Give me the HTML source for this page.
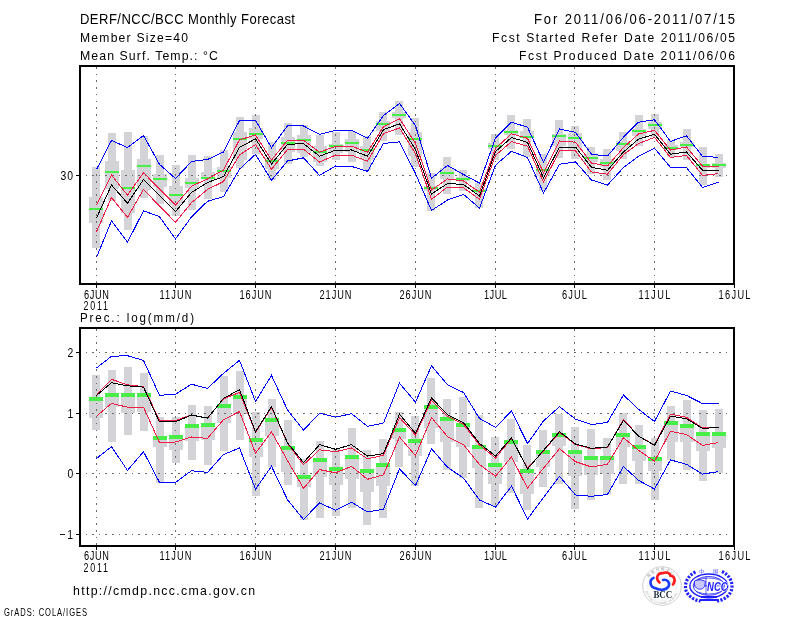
<!DOCTYPE html>
<html><head><meta charset="utf-8"><title>DERF/NCC/BCC Monthly Forecast</title>
<style>html,body{margin:0;padding:0;background:#fff;overflow:hidden}svg{display:block}</style>
</head><body>
<svg width="800" height="618" viewBox="0 0 800 618"><rect width="800" height="618" fill="#fff"/>
<g shape-rendering="crispEdges">
<g fill="#d3d3d8"><rect x="92" y="167" width="8" height="81"/><rect x="89" y="197" width="14" height="26"/><rect x="108" y="133" width="8" height="68"/><rect x="105" y="161" width="14" height="28"/><rect x="124" y="132" width="8" height="98"/><rect x="121" y="170" width="14" height="43"/><rect x="140" y="136" width="8" height="62"/><rect x="137" y="159" width="14" height="31"/><rect x="156" y="155" width="8" height="49"/><rect x="153" y="174" width="14" height="13"/><rect x="172" y="165" width="8" height="51"/><rect x="169" y="186" width="14" height="19"/><rect x="188" y="155" width="8" height="55"/><rect x="185" y="178" width="14" height="10"/><rect x="204" y="156" width="8" height="43"/><rect x="201" y="172" width="14" height="7"/><rect x="220" y="150" width="8" height="42"/><rect x="217" y="167" width="14" height="11"/><rect x="236" y="117" width="8" height="51"/><rect x="233" y="132" width="14" height="28"/><rect x="252" y="115" width="8" height="39"/><rect x="249" y="128" width="14" height="11"/><rect x="268" y="142" width="8" height="38"/><rect x="265" y="158" width="14" height="11"/><rect x="284" y="123" width="8" height="41"/><rect x="281" y="137" width="14" height="15"/><rect x="300" y="125" width="8" height="32"/><rect x="297" y="135" width="14" height="18"/><rect x="316" y="135" width="8" height="31"/><rect x="313" y="146" width="14" height="16"/><rect x="332" y="132" width="8" height="28"/><rect x="329" y="144" width="14" height="9"/><rect x="348" y="131" width="8" height="31"/><rect x="345" y="139" width="14" height="13"/><rect x="363" y="136" width="8" height="34"/><rect x="360" y="146" width="14" height="14"/><rect x="379" y="112" width="8" height="29"/><rect x="376" y="121" width="14" height="10"/><rect x="395" y="101" width="8" height="34"/><rect x="392" y="112" width="14" height="6"/><rect x="411" y="118" width="8" height="49"/><rect x="408" y="132" width="14" height="24"/><rect x="427" y="173" width="8" height="38"/><rect x="424" y="186" width="14" height="5"/><rect x="443" y="157" width="8" height="37"/><rect x="440" y="168" width="14" height="11"/><rect x="459" y="170" width="8" height="21"/><rect x="456" y="177" width="14" height="4"/><rect x="475" y="183" width="8" height="25"/><rect x="472" y="189" width="14" height="3"/><rect x="491" y="134" width="8" height="26"/><rect x="488" y="143" width="14" height="6"/><rect x="507" y="115" width="8" height="34"/><rect x="504" y="130" width="14" height="5"/><rect x="523" y="119" width="8" height="38"/><rect x="520" y="131" width="14" height="6"/><rect x="539" y="154" width="8" height="37"/><rect x="536" y="168" width="14" height="8"/><rect x="555" y="120" width="8" height="38"/><rect x="552" y="134" width="14" height="12"/><rect x="571" y="126" width="8" height="33"/><rect x="568" y="133" width="14" height="17"/><rect x="587" y="147" width="8" height="27"/><rect x="584" y="154" width="14" height="8"/><rect x="603" y="149" width="8" height="31"/><rect x="600" y="159" width="14" height="8"/><rect x="619" y="132" width="8" height="27"/><rect x="616" y="141" width="14" height="10"/><rect x="635" y="115" width="8" height="31"/><rect x="632" y="129" width="14" height="7"/><rect x="651" y="114" width="8" height="23"/><rect x="648" y="122" width="14" height="7"/><rect x="667" y="140" width="8" height="17"/><rect x="664" y="145" width="14" height="5"/><rect x="683" y="129" width="8" height="31"/><rect x="680" y="142" width="14" height="5"/><rect x="699" y="147" width="8" height="38"/><rect x="696" y="164" width="14" height="4"/><rect x="715" y="154" width="8" height="23"/><rect x="712" y="163" width="14" height="5"/></g>
<path d="M96.5 67V283M175.5 67V283M255.5 67V283M335.5 67V283M415.5 67V283M495.5 67V283M574.5 67V283M654.5 67V283" stroke="#6a6a6a" stroke-width="1" stroke-dasharray="1.6 5.1" fill="none"/>
<path d="M81 175.5H730" stroke="#6a6a6a" stroke-width="1" stroke-dasharray="1.6 5" stroke-dashoffset="-4.5" fill="none"/>
<g fill="#48ee48"><rect x="89" y="208" width="14" height="2"/><rect x="105" y="171" width="14" height="2"/><rect x="121" y="187" width="14" height="2"/><rect x="137" y="165" width="14" height="2"/><rect x="153" y="178" width="14" height="2"/><rect x="169" y="194" width="14" height="2"/><rect x="185" y="182" width="14" height="2"/><rect x="201" y="177" width="14" height="2"/><rect x="217" y="170" width="14" height="2"/><rect x="233" y="138" width="14" height="2"/><rect x="249" y="133" width="14" height="2"/><rect x="265" y="160" width="14" height="2"/><rect x="281" y="142" width="14" height="2"/><rect x="297" y="139" width="14" height="2"/><rect x="313" y="151" width="14" height="2"/><rect x="329" y="145" width="14" height="2"/><rect x="345" y="142" width="14" height="2"/><rect x="360" y="149" width="14" height="2"/><rect x="376" y="123" width="14" height="2"/><rect x="392" y="114" width="14" height="2"/><rect x="408" y="138" width="14" height="2"/><rect x="424" y="187" width="14" height="2"/><rect x="440" y="172" width="14" height="2"/><rect x="456" y="178" width="14" height="2"/><rect x="472" y="190" width="14" height="2"/><rect x="488" y="145" width="14" height="2"/><rect x="504" y="131" width="14" height="2"/><rect x="520" y="136" width="14" height="2"/><rect x="536" y="169" width="14" height="2"/><rect x="552" y="135" width="14" height="2"/><rect x="568" y="137" width="14" height="2"/><rect x="584" y="157" width="14" height="2"/><rect x="600" y="162" width="14" height="2"/><rect x="616" y="143" width="14" height="2"/><rect x="632" y="130" width="14" height="2"/><rect x="648" y="124" width="14" height="2"/><rect x="664" y="147" width="14" height="2"/><rect x="680" y="144" width="14" height="2"/><rect x="696" y="164" width="14" height="2"/><rect x="712" y="164" width="14" height="2"/></g>
<polyline points="96.5,169.5 111.5,140.5 127.5,147.5 143.5,135.5 159.5,164.3 175.5,178.5 191.5,161.5 207.5,159.5 223.5,152.0 239.5,120.5 255.5,120.3 271.5,147.7 287.5,125.7 303.5,126.0 319.5,134.4 335.5,130.4 351.5,130.4 367.5,138.3 383.5,115.4 399.5,103.5 415.5,125.6 431.5,178.3 447.5,165.4 463.5,174.5 479.5,183.1 495.5,138.0 511.5,122.2 527.5,127.2 543.5,162.2 559.5,129.0 575.5,132.3 591.5,154.3 607.5,156.0 623.5,137.2 638.5,122.2 654.5,119.8 670.5,141.4 686.5,135.8 702.5,156.3 718.5,157.4" stroke="#0000ff" stroke-width="1" fill="none"/>
<polyline points="96.5,257.5 111.5,220.8 127.5,242.2 143.5,210.8 159.5,216.7 175.5,238.9 191.5,216.9 207.5,201.3 223.5,196.6 239.5,169.2 255.5,154.3 271.5,180.3 287.5,161.0 303.5,157.8 319.5,175.4 335.5,166.0 351.5,166.4 367.5,171.3 383.5,143.5 399.5,141.8 415.5,173.5 431.5,210.5 447.5,200.0 463.5,194.4 479.5,208.1 495.5,165.2 511.5,151.3 527.5,157.5 543.5,193.1 559.5,164.3 575.5,161.9 591.5,180.0 607.5,185.0 623.5,167.6 638.5,156.3 654.5,148.2 670.5,167.3 686.5,167.6 702.5,187.4 718.5,182.2" stroke="#0000ff" stroke-width="1" fill="none"/>
<polyline points="96.5,231.8 111.5,197.5 127.5,217.4 143.5,189.5 159.5,206.0 175.5,222.3 191.5,202.7 207.5,189.4 223.5,181.5 239.5,155.0 255.5,144.5 271.5,169.2 287.5,149.6 303.5,149.2 319.5,162.0 335.5,155.2 351.5,155.2 367.5,161.2 383.5,133.7 399.5,127.9 415.5,153.6 431.5,199.2 447.5,187.1 463.5,187.8 479.5,199.3 495.5,155.3 511.5,141.7 527.5,146.2 543.5,182.0 559.5,151.0 575.5,150.9 591.5,172.0 607.5,174.2 623.5,154.6 638.5,143.6 654.5,137.3 670.5,157.5 686.5,155.5 702.5,175.4 718.5,173.6" stroke="#ec2046" stroke-width="1" fill="none"/>
<polyline points="96.5,205.3 111.5,175.0 127.5,195.2 143.5,172.7 159.5,189.0 175.5,205.2 191.5,186.2 207.5,179.0 223.5,170.0 239.5,139.8 255.5,135.0 271.5,160.0 287.5,140.4 303.5,140.2 319.5,152.2 335.5,146.4 351.5,146.1 367.5,152.2 383.5,126.6 399.5,118.6 415.5,143.4 431.5,190.0 447.5,178.9 463.5,181.0 479.5,192.2 495.5,148.4 511.5,133.8 527.5,138.3 543.5,172.8 559.5,141.0 575.5,142.2 591.5,163.0 607.5,166.0 623.5,147.5 638.5,134.0 654.5,130.3 670.5,150.2 686.5,147.0 702.5,166.2 718.5,166.2" stroke="#ec2046" stroke-width="1" fill="none"/>
<polyline points="96.5,218.0 111.5,185.0 127.5,203.2 143.5,179.6 159.5,195.5 175.5,211.5 191.5,192.5 207.5,182.5 223.5,176.6 239.5,147.4 255.5,138.8 271.5,164.0 287.5,144.3 303.5,143.7 319.5,156.2 335.5,150.2 351.5,150.0 367.5,156.2 383.5,129.7 399.5,123.8 415.5,149.5 431.5,194.0 447.5,183.5 463.5,184.5 479.5,196.0 495.5,151.5 511.5,137.5 527.5,142.4 543.5,177.7 559.5,147.0 575.5,147.0 591.5,167.3 607.5,170.3 623.5,151.9 638.5,139.1 654.5,134.3 670.5,154.2 686.5,152.0 702.5,170.2 718.5,170.2" stroke="#000" stroke-width="1" fill="none"/>
<rect x="80" y="66" width="654" height="218" fill="none" stroke="#000" stroke-width="2"/>
<path d="M96.5 285V288M175.5 285V288M255.5 285V288M335.5 285V288M415.5 285V288M495.5 285V288M574.5 285V288M654.5 285V288M734.5 285V288M76 175.5H79" stroke="#000" stroke-width="1"/>
<g fill="#d3d3d8"><rect x="92" y="375" width="8" height="55"/><rect x="89" y="397" width="14" height="21"/><rect x="108" y="370" width="8" height="72"/><rect x="105" y="393" width="14" height="14"/><rect x="124" y="367" width="8" height="68"/><rect x="121" y="393" width="14" height="20"/><rect x="140" y="373" width="8" height="58"/><rect x="137" y="393" width="14" height="19"/><rect x="156" y="417" width="8" height="66"/><rect x="153" y="436" width="14" height="11"/><rect x="172" y="417" width="8" height="46"/><rect x="169" y="435" width="14" height="15"/><rect x="188" y="405" width="8" height="55"/><rect x="185" y="424" width="14" height="17"/><rect x="204" y="406" width="8" height="59"/><rect x="201" y="423" width="14" height="17"/><rect x="220" y="376" width="8" height="75"/><rect x="217" y="404" width="14" height="19"/><rect x="236" y="371" width="8" height="69"/><rect x="233" y="395" width="14" height="19"/><rect x="252" y="412" width="8" height="84"/><rect x="249" y="438" width="14" height="19"/><rect x="268" y="399" width="8" height="68"/><rect x="265" y="418" width="14" height="18"/><rect x="284" y="420" width="8" height="65"/><rect x="281" y="446" width="14" height="26"/><rect x="300" y="459" width="8" height="61"/><rect x="297" y="475" width="14" height="12"/><rect x="316" y="441" width="8" height="77"/><rect x="313" y="458" width="14" height="19"/><rect x="332" y="449" width="8" height="67"/><rect x="329" y="467" width="14" height="18"/><rect x="348" y="428" width="8" height="80"/><rect x="345" y="455" width="14" height="24"/><rect x="363" y="450" width="8" height="75"/><rect x="360" y="469" width="14" height="23"/><rect x="379" y="439" width="8" height="79"/><rect x="376" y="463" width="14" height="23"/><rect x="395" y="412" width="8" height="55"/><rect x="392" y="428" width="14" height="11"/><rect x="411" y="416" width="8" height="70"/><rect x="408" y="439" width="14" height="17"/><rect x="427" y="378" width="8" height="66"/><rect x="424" y="405" width="14" height="23"/><rect x="443" y="399" width="8" height="71"/><rect x="440" y="417" width="14" height="25"/><rect x="459" y="397" width="8" height="81"/><rect x="456" y="423" width="14" height="24"/><rect x="475" y="415" width="8" height="93"/><rect x="472" y="445" width="14" height="23"/><rect x="491" y="437" width="8" height="69"/><rect x="488" y="463" width="14" height="21"/><rect x="507" y="419" width="8" height="74"/><rect x="504" y="440" width="14" height="22"/><rect x="523" y="445" width="8" height="65"/><rect x="520" y="469" width="14" height="25"/><rect x="539" y="430" width="8" height="57"/><rect x="536" y="450" width="14" height="17"/><rect x="555" y="414" width="8" height="70"/><rect x="552" y="433" width="14" height="13"/><rect x="571" y="427" width="8" height="82"/><rect x="568" y="450" width="14" height="26"/><rect x="587" y="429" width="8" height="71"/><rect x="584" y="456" width="14" height="19"/><rect x="603" y="438" width="8" height="56"/><rect x="600" y="456" width="14" height="18"/><rect x="619" y="413" width="8" height="71"/><rect x="616" y="433" width="14" height="14"/><rect x="635" y="425" width="8" height="59"/><rect x="632" y="445" width="14" height="16"/><rect x="651" y="438" width="8" height="62"/><rect x="648" y="457" width="14" height="14"/><rect x="667" y="406" width="8" height="54"/><rect x="664" y="421" width="14" height="21"/><rect x="683" y="400" width="8" height="70"/><rect x="680" y="424" width="14" height="18"/><rect x="699" y="410" width="8" height="71"/><rect x="696" y="432" width="14" height="19"/><rect x="715" y="409" width="8" height="64"/><rect x="712" y="432" width="14" height="16"/></g>
<path d="M96.5 329V545M175.5 329V545M255.5 329V545M335.5 329V545M415.5 329V545M495.5 329V545M574.5 329V545M654.5 329V545" stroke="#6a6a6a" stroke-width="1" stroke-dasharray="1.6 5.1" fill="none"/>
<path d="M81 352.5H730M81 413.5H730M81 473.5H730M81 534.5H730" stroke="#6a6a6a" stroke-width="1" stroke-dasharray="1.6 5" stroke-dashoffset="-4.5" fill="none"/>
<g fill="#48ee48"><rect x="89" y="397" width="14" height="4"/><rect x="105" y="393" width="14" height="4"/><rect x="121" y="393" width="14" height="4"/><rect x="137" y="393" width="14" height="4"/><rect x="153" y="436" width="14" height="4"/><rect x="169" y="435" width="14" height="4"/><rect x="185" y="424" width="14" height="4"/><rect x="201" y="423" width="14" height="4"/><rect x="217" y="404" width="14" height="4"/><rect x="233" y="395" width="14" height="4"/><rect x="249" y="438" width="14" height="4"/><rect x="265" y="418" width="14" height="4"/><rect x="281" y="446" width="14" height="4"/><rect x="297" y="475" width="14" height="4"/><rect x="313" y="458" width="14" height="4"/><rect x="329" y="467" width="14" height="4"/><rect x="345" y="455" width="14" height="4"/><rect x="360" y="469" width="14" height="4"/><rect x="376" y="463" width="14" height="4"/><rect x="392" y="428" width="14" height="4"/><rect x="408" y="439" width="14" height="4"/><rect x="424" y="405" width="14" height="4"/><rect x="440" y="417" width="14" height="4"/><rect x="456" y="423" width="14" height="4"/><rect x="472" y="445" width="14" height="4"/><rect x="488" y="463" width="14" height="4"/><rect x="504" y="440" width="14" height="4"/><rect x="520" y="469" width="14" height="4"/><rect x="536" y="450" width="14" height="4"/><rect x="552" y="433" width="14" height="4"/><rect x="568" y="450" width="14" height="4"/><rect x="584" y="456" width="14" height="4"/><rect x="600" y="456" width="14" height="4"/><rect x="616" y="433" width="14" height="4"/><rect x="632" y="445" width="14" height="4"/><rect x="648" y="457" width="14" height="4"/><rect x="664" y="421" width="14" height="4"/><rect x="680" y="424" width="14" height="4"/><rect x="696" y="432" width="14" height="4"/><rect x="712" y="432" width="14" height="4"/></g>
<polyline points="96.5,368.0 111.5,356.3 127.5,355.7 143.5,360.4 159.5,395.3 175.5,394.2 191.5,384.2 207.5,388.5 223.5,373.3 239.5,360.3 255.5,401.5 271.5,375.4 287.5,410.0 303.5,430.2 319.5,413.2 335.5,417.2 351.5,413.7 367.5,426.3 383.5,423.0 399.5,383.2 415.5,402.2 431.5,365.8 447.5,384.8 463.5,392.5 479.5,418.4 495.5,427.4 511.5,411.1 527.5,443.6 543.5,420.9 559.5,406.7 575.5,419.2 591.5,424.6 607.5,422.3 623.5,395.0 638.5,409.3 654.5,421.5 670.5,391.1 686.5,395.4 702.5,403.6 718.5,403.6" stroke="#0000ff" stroke-width="1" fill="none"/>
<polyline points="96.5,458.5 111.5,446.7 127.5,470.4 143.5,451.7 159.5,482.4 175.5,482.4 191.5,470.7 207.5,472.4 223.5,454.5 239.5,448.0 255.5,489.1 271.5,466.3 287.5,499.7 303.5,519.5 319.5,502.9 335.5,510.2 351.5,502.2 367.5,512.0 383.5,509.2 399.5,468.8 415.5,485.7 431.5,448.8 447.5,467.2 463.5,478.1 479.5,500.0 495.5,507.2 511.5,486.1 527.5,519.1 543.5,497.5 559.5,476.3 575.5,495.0 591.5,496.3 607.5,494.5 623.5,466.5 638.5,480.3 654.5,489.1 670.5,459.9 686.5,464.3 702.5,474.1 718.5,471.6" stroke="#0000ff" stroke-width="1" fill="none"/>
<polyline points="96.5,416.3 111.5,403.4 127.5,407.2 143.5,407.2 159.5,442.6 175.5,442.0 191.5,437.0 207.5,438.4 223.5,419.7 239.5,411.5 255.5,453.3 271.5,431.8 287.5,460.6 303.5,488.3 319.5,469.6 335.5,472.8 351.5,466.4 367.5,479.3 383.5,474.8 399.5,437.0 415.5,455.6 431.5,417.5 447.5,436.6 463.5,444.7 479.5,464.5 495.5,476.3 511.5,456.8 527.5,488.2 543.5,468.2 559.5,448.7 575.5,461.7 591.5,467.0 607.5,464.2 623.5,437.7 638.5,450.2 654.5,461.3 670.5,431.2 686.5,434.5 702.5,445.4 718.5,442.6" stroke="#ec2046" stroke-width="1" fill="none"/>
<polyline points="96.5,394.5 111.5,379.3 127.5,384.8 143.5,386.6 159.5,420.4 175.5,420.4 191.5,415.0 207.5,418.2 223.5,398.8 239.5,392.4 255.5,432.4 271.5,407.5 287.5,443.5 303.5,464.7 319.5,449.8 335.5,451.7 351.5,448.0 367.5,458.9 383.5,455.3 399.5,417.6 415.5,435.0 431.5,400.2 447.5,416.3 463.5,424.4 479.5,445.0 495.5,458.0 511.5,438.5 527.5,468.2 543.5,451.0 559.5,432.5 575.5,444.6 591.5,448.8 607.5,447.5 623.5,419.3 638.5,436.0 654.5,445.0 670.5,414.1 686.5,417.4 702.5,428.0 718.5,427.0" stroke="#ec2046" stroke-width="1" fill="none"/>
<polyline points="96.5,395.5 111.5,382.7 127.5,385.8 143.5,387.1 159.5,422.0 175.5,421.8 191.5,415.0 207.5,418.2 223.5,398.5 239.5,389.6 255.5,431.9 271.5,406.7 287.5,442.8 303.5,462.6 319.5,444.7 335.5,449.3 351.5,444.7 367.5,456.1 383.5,453.7 399.5,414.2 415.5,433.4 431.5,397.8 447.5,414.8 463.5,422.7 479.5,443.5 495.5,456.0 511.5,437.9 527.5,469.0 543.5,450.3 559.5,431.7 575.5,444.0 591.5,448.3 607.5,447.0 623.5,420.3 638.5,436.1 654.5,445.4 670.5,416.1 686.5,418.7 702.5,428.5 718.5,427.2" stroke="#000" stroke-width="1" fill="none"/>
<rect x="80" y="328" width="654" height="218" fill="none" stroke="#000" stroke-width="2"/>
<path d="M96.5 547V550M175.5 547V550M255.5 547V550M335.5 547V550M415.5 547V550M495.5 547V550M574.5 547V550M654.5 547V550M734.5 547V550M76 352.5H79M76 413.5H79M76 473.5H79M76 534.5H79" stroke="#000" stroke-width="1"/>
</g>
<g font-family="Liberation Sans, sans-serif" fill="#000">
<text transform="translate(80.00,24) scale(0.92,1)" font-size="14.2" textLength="233.70" lengthAdjust="spacing">DERF/NCC/BCC Monthly Forecast</text>
<text transform="translate(80.00,42) scale(0.92,1)" font-size="13.2" textLength="117.39" lengthAdjust="spacing">Member Size=40</text>
<text transform="translate(80.00,60) scale(0.92,1)" font-size="13.4" textLength="150.00" lengthAdjust="spacing">Mean Surf. Temp.: °C</text>
<text transform="translate(534.00,24) scale(0.92,1)" font-size="14.2" textLength="218.48" lengthAdjust="spacing">For 2011/06/06-2011/07/15</text>
<text transform="translate(492.00,42) scale(0.92,1)" font-size="13.2" textLength="264.13" lengthAdjust="spacing">Fcst Started Refer Date 2011/06/05</text>
<text transform="translate(519.00,60) scale(0.92,1)" font-size="13.2" textLength="234.78" lengthAdjust="spacing">Fcst Produced Date 2011/06/06</text>
<text transform="translate(80.00,322) scale(0.92,1)" font-size="12.6" textLength="123.91" lengthAdjust="spacing">Prec.: log(mm/d)</text>
<text transform="translate(60.50,180) scale(0.8,1)" font-size="13" textLength="15.62" lengthAdjust="spacing">30</text>
<text transform="translate(67.50,357) scale(0.8,1)" font-size="13" textLength="8.12" lengthAdjust="spacing">2</text>
<text transform="translate(67.50,418) scale(0.8,1)" font-size="13" textLength="6.88" lengthAdjust="spacing">1</text>
<text transform="translate(67.50,478) scale(0.8,1)" font-size="13" textLength="8.12" lengthAdjust="spacing">0</text>
<text transform="translate(59.50,539) scale(0.8,1)" font-size="13" textLength="16.88" lengthAdjust="spacing">−1</text>
<text transform="translate(84.00,299) scale(0.72,1)" font-size="12.8" textLength="34.72" lengthAdjust="spacing">6JUN</text>
<text transform="translate(159.50,299) scale(0.72,1)" font-size="12.8" textLength="44.44" lengthAdjust="spacing">11JUN</text>
<text transform="translate(239.50,299) scale(0.72,1)" font-size="12.8" textLength="44.44" lengthAdjust="spacing">16JUN</text>
<text transform="translate(319.50,299) scale(0.72,1)" font-size="12.8" textLength="44.44" lengthAdjust="spacing">21JUN</text>
<text transform="translate(399.50,299) scale(0.72,1)" font-size="12.8" textLength="44.44" lengthAdjust="spacing">26JUN</text>
<text transform="translate(484.00,299) scale(0.72,1)" font-size="12.8" textLength="31.94" lengthAdjust="spacing">1JUL</text>
<text transform="translate(562.00,299) scale(0.72,1)" font-size="12.8" textLength="34.72" lengthAdjust="spacing">6JUL</text>
<text transform="translate(638.50,299) scale(0.72,1)" font-size="12.8" textLength="44.44" lengthAdjust="spacing">11JUL</text>
<text transform="translate(718.50,299) scale(0.72,1)" font-size="12.8" textLength="44.44" lengthAdjust="spacing">16JUL</text>
<text transform="translate(83.50,310) scale(0.72,1)" font-size="12.4" textLength="34.03" lengthAdjust="spacing">2011</text>
<text transform="translate(84.00,560) scale(0.72,1)" font-size="12.8" textLength="34.72" lengthAdjust="spacing">6JUN</text>
<text transform="translate(159.50,560) scale(0.72,1)" font-size="12.8" textLength="44.44" lengthAdjust="spacing">11JUN</text>
<text transform="translate(239.50,560) scale(0.72,1)" font-size="12.8" textLength="44.44" lengthAdjust="spacing">16JUN</text>
<text transform="translate(319.50,560) scale(0.72,1)" font-size="12.8" textLength="44.44" lengthAdjust="spacing">21JUN</text>
<text transform="translate(399.50,560) scale(0.72,1)" font-size="12.8" textLength="44.44" lengthAdjust="spacing">26JUN</text>
<text transform="translate(484.00,560) scale(0.72,1)" font-size="12.8" textLength="31.94" lengthAdjust="spacing">1JUL</text>
<text transform="translate(562.00,560) scale(0.72,1)" font-size="12.8" textLength="34.72" lengthAdjust="spacing">6JUL</text>
<text transform="translate(638.50,560) scale(0.72,1)" font-size="12.8" textLength="44.44" lengthAdjust="spacing">11JUL</text>
<text transform="translate(718.50,560) scale(0.72,1)" font-size="12.8" textLength="44.44" lengthAdjust="spacing">16JUL</text>
<text transform="translate(83.50,572) scale(0.72,1)" font-size="12.4" textLength="34.03" lengthAdjust="spacing">2011</text>
<text transform="translate(73.00,595) scale(0.95,1)" font-size="13" textLength="191.58" lengthAdjust="spacing">http://cmdp.ncc.cma.gov.cn</text>
<text transform="translate(4.00,616) scale(0.72,1)" font-size="10.5" textLength="115.28" lengthAdjust="spacing">GrADS: COLA/IGES</text>
</g>

<g>
 <circle cx="662" cy="586" r="19.3" fill="none" stroke="#cfcfcf" stroke-width="1"/>
 <circle cx="662" cy="586" r="14.8" fill="none" stroke="#f0f0f0" stroke-width="0.8"/>
 <path id="bcctop" d="M646.5 586 A15.5 15.5 0 0 1 677.5 586" fill="none"/>
 <path id="bccbot" d="M645 587 A17 17 0 0 0 679 587" fill="none"/>
 <text font-family="Noto Sans CJK SC, sans-serif" font-size="3.6" fill="#9a9a9a" letter-spacing="1.2"><textPath href="#bcctop" startOffset="18%">国家气候中心</textPath></text>
 <text font-family="Liberation Sans, sans-serif" font-size="2.8" fill="#a0a0a0" letter-spacing="0.3"><textPath href="#bccbot" startOffset="8%">BEIJING CLIMATE CENTER</textPath></text>
 <path d="M659.5 582.5 C655 578.5 657.5 572.5 663 573.2 C666 571.5 670 573 670.5 575.8 C674.5 576 676 581 673 584.5" fill="none" stroke="#ff1a1a" stroke-width="2.6" stroke-linecap="round"/>
 <path d="M653.5 577.8 C649 580 649.5 587 655.5 588.2 C659 590.5 666 590.5 668.5 586.5 C670.5 582.5 667 579 663 580" fill="none" stroke="#1a3cff" stroke-width="2.6" stroke-linecap="round"/>
 <text x="662.8" y="598.2" font-family="Liberation Serif, serif" font-weight="bold" font-size="9.6" fill="#1b2a3a" text-anchor="middle" textLength="18.8" lengthAdjust="spacingAndGlyphs">BCC</text>
</g>
<g fill="none" stroke="#1f1fff">
 <path d="M695.5 572 C688 575.5 684 583 686 590.5 C688 596 693.5 600 700.5 601" stroke-width="3.2" stroke-dasharray="2.2 1.4"/>
 <path d="M722 571.5 C729.5 575 733.5 582.5 731.5 590 C729.5 596 724 600 717 601" stroke-width="3.2" stroke-dasharray="2.2 1.4"/>
 <ellipse cx="708.8" cy="585.9" rx="18.9" ry="11.9" stroke-width="1.4"/>
 <ellipse cx="708.8" cy="585.9" rx="15.6" ry="9.4" stroke-width="0.9"/>
 <path d="M693.5 585.9 H724 M706 576.5 V595.5 M696 580.5 Q708.8 575.5 721.5 580.5 M696 591.5 Q708.8 596.5 721.5 591.5" stroke-width="0.7"/>
 <path d="M694.5 581 C698.5 579 702.5 580 705.5 581.5 L704.5 586.5 C702.5 589.5 699 590 696.5 588 C694.5 586.5 694 583.5 694.5 581 Z" fill="#c8c8ff" stroke-width="0.9"/>
 <path d="M701 597 H717 M700 600 H718.5" stroke-width="1.8"/>
</g>
<text x="717.3" y="590.6" font-family="Liberation Sans, sans-serif" font-weight="bold" font-style="italic" font-size="12" fill="#1f1fff" stroke="#fff" stroke-width="1.2" paint-order="stroke" text-anchor="middle" textLength="20.5" lengthAdjust="spacingAndGlyphs">NCC</text>
<text x="701.5" y="573.3" font-family="Noto Sans CJK SC, sans-serif" font-size="4.6" fill="#1f1fff" text-anchor="middle">中</text>
<text x="715.5" y="573.3" font-family="Noto Sans CJK SC, sans-serif" font-size="4.6" fill="#1f1fff" text-anchor="middle">国</text>
</svg>
</body></html>
